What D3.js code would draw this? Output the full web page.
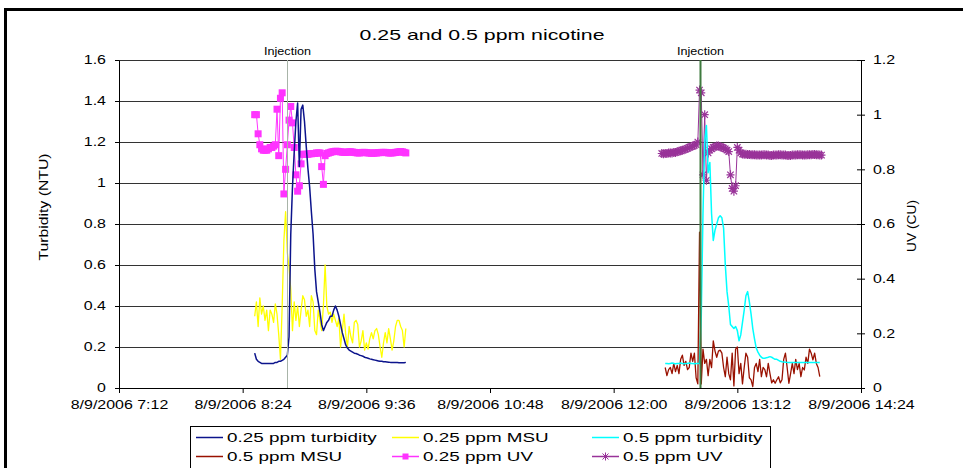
<!DOCTYPE html>
<html><head><meta charset="utf-8">
<script src="https://cdn.jsdelivr.net/npm/d3@7"></script>
<style>
body{margin:0;background:#fff}
svg{display:block}
text{font-family:"Liberation Sans",Arial,sans-serif;fill:#000}
</style>
</head><body>
<svg id="c" width="963" height="468"></svg>
<script>
// ---------------- DATA ----------------
const chartTitle = "0.25 and 0.5 ppm nicotine";
const leftAxisTitle = "Turbidity (NTU)";
const rightAxisTitle = "UV (CU)";
const xTickLabels = ["8/9/2006 7:12","8/9/2006 8:24","8/9/2006 9:36","8/9/2006 10:48","8/9/2006 12:00","8/9/2006 13:12","8/9/2006 14:24"];
const yLeftTicks = [0,0.2,0.4,0.6,0.8,1,1.2,1.4,1.6];
const yRightTicks = [0,0.2,0.4,0.6,0.8,1,1.2];
const injectionLabel = "Injection";
const injectionTimes = ["8/9/2006 8:50","8/9/2006 12:50"];

// one reading per minute from the start time of each run
const sampleMinutes = 1;
const start025 = "8/9/2006 8:31";
const start05 = "8/9/2006 12:30";
const start05UV = "8/9/2006 12:28";

const turb025 = [0.17,0.14,0.13,0.125,0.12,0.12,0.12,0.12,0.12,0.12,
 0.12,0.12,0.125,0.125,0.13,0.13,0.135,0.14,0.15,0.16,
 0.25,0.75,0.98,1.15,1.30,1.39,1.08,1.36,1.38,1.30,
 1.18,1.07,0.98,0.86,0.75,0.58,0.47,0.42,0.37,0.31,
 0.28,0.30,0.32,0.33,0.35,0.35,0.38,0.40,0.38,0.35,
 0.31,0.27,0.24,0.21,0.195,0.185,0.18,0.175,0.17,0.168,
 0.165,0.16,0.158,0.155,0.15,0.148,0.145,0.142,0.14,0.138,
 0.136,0.134,0.132,0.13,0.13,0.128,0.128,0.127,0.126,0.125,
 0.125,0.124,0.124,0.124,0.123,0.123,0.123,0.123,0.125];

const msu025 = [0.35,0.42,0.30,0.44,0.36,0.40,0.33,0.38,0.28,0.38,
 0.36,0.32,0.41,0.36,0.26,0.14,0.40,0.72,0.86,0.66,
 0.59,0.48,0.28,0.42,0.33,0.40,0.30,0.38,0.45,0.43,
 0.35,0.38,0.30,0.45,0.42,0.28,0.26,0.38,0.33,0.28,
 0.40,0.60,0.40,0.36,0.37,0.32,0.36,0.33,0.30,0.34,
 0.20,0.28,0.36,0.26,0.20,0.30,0.25,0.22,0.32,0.33,
 0.31,0.20,0.23,0.28,0.185,0.22,0.19,0.24,0.27,0.24,
 0.28,0.29,0.26,0.20,0.15,0.22,0.27,0.22,0.29,0.24,
 0.185,0.23,0.30,0.33,0.33,0.30,0.28,0.20,0.29];

const uv025 = [1.00,1.00,0.93,0.89,0.875,0.87,0.87,0.87,0.875,0.88,
 0.88,0.885,0.89,1.02,0.85,1.06,1.08,0.71,0.80,0.89,
 0.98,1.03,0.97,0.88,0.78,0.72,0.74,0.82,0.855,0.855,
 0.855,0.855,0.857,0.857,0.858,0.858,0.86,0.86,0.86,0.81,
 0.745,0.85,0.858,0.86,0.862,0.864,0.865,0.866,0.866,0.865,
 0.864,0.863,0.862,0.862,0.863,0.864,0.864,0.863,0.862,0.861,
 0.86,0.86,0.861,0.862,0.862,0.861,0.86,0.86,0.859,0.859,
 0.86,0.86,0.861,0.861,0.862,0.862,0.862,0.861,0.86,0.86,
 0.86,0.861,0.862,0.863,0.864,0.865,0.864,0.862,0.86];

const turb05 = [0.12,0.12,0.118,0.12,0.122,0.12,0.118,0.12,0.12,0.122,
 0.12,0.118,0.12,0.12,0.122,0.12,0.12,0.118,0.12,0.12,
 0.12,0.35,0.85,1.20,1.28,1.05,1.10,0.85,0.72,0.77,
 0.80,0.83,0.84,0.83,0.78,0.60,0.47,0.40,0.31,0.30,
 0.29,0.30,0.28,0.23,0.26,0.32,0.38,0.45,0.47,0.42,
 0.36,0.29,0.24,0.195,0.175,0.16,0.15,0.145,0.145,0.148,
 0.15,0.153,0.15,0.145,0.14,0.14,0.135,0.13,0.128,0.127,
 0.126,0.125,0.125,0.124,0.124,0.124,0.124,0.124,0.124,0.124,
 0.124,0.124,0.124,0.124,0.125,0.125,0.125,0.124,0.124,0.125,
 0.125];

const msu05 = [0.10,0.06,0.09,0.10,0.07,0.12,0.08,0.11,0.07,0.14,
 0.16,0.11,0.13,0.09,0.10,0.17,0.13,0.17,0.05,0.02,
 0.76,0.02,0.19,0.12,0.14,0.06,0.14,0.10,0.23,0.18,
 0.15,0.18,0.185,0.17,0.10,0.055,0.15,0.07,0.04,0.17,
 0.01,0.19,0.20,0.07,0.12,0.02,0.10,0.17,0.15,0.05,
 0.04,0.007,0.10,0.12,0.08,0.14,0.055,0.10,0.09,0.055,
 0.12,0.07,0.025,0.04,0.023,0.04,0.055,0.025,0.04,0.14,
 0.17,0.10,0.023,0.07,0.12,0.07,0.14,0.09,0.12,0.055,
 0.10,0.088,0.15,0.12,0.19,0.17,0.137,0.17,0.12,0.10,
 0.055];

const uv05 = [0.858,0.857,0.858,0.858,0.86,0.86,0.86,0.862,0.862,0.864,
 0.866,0.868,0.87,0.872,0.874,0.877,0.88,0.883,0.885,0.888,
 0.89,0.90,1.09,1.08,0.78,1.00,0.76,0.86,0.87,0.875,
 0.88,0.882,0.885,0.885,0.883,0.88,0.878,0.875,0.87,0.865,
 0.78,0.73,0.72,0.74,0.88,0.87,0.86,0.856,0.855,0.855,
 0.854,0.854,0.853,0.853,0.853,0.852,0.852,0.852,0.852,0.853,
 0.853,0.852,0.852,0.851,0.851,0.852,0.852,0.852,0.853,0.853,
 0.852,0.852,0.852,0.851,0.851,0.851,0.852,0.852,0.852,0.853,
 0.853,0.853,0.852,0.852,0.852,0.853,0.853,0.853,0.854,0.854,
 0.853,0.853,0.852,0.852];

const seriesNames = ["0.25 ppm turbidity","0.25 ppm MSU","0.5 ppm turbidity","0.5 ppm MSU","0.25 ppm UV","0.5 ppm UV"];

// ---------------- DRAWING ----------------
const svg = d3.select("#c");
const parse = d3.timeParse("%m/%d/%Y %H:%M");
const X0 = 119, X1 = 861, Y0 = 388, Y1 = 60;

const x = d3.scaleTime()
  .domain([parse(xTickLabels[0]), parse(xTickLabels[xTickLabels.length-1])])
  .range([X0, X1]);
const yL = d3.scaleLinear().domain([0,1.6]).range([Y0,Y1]);
const yR = d3.scaleLinear().domain([0,1.2]).range([Y0,Y1]);

const series = [
  {name:seriesNames[0], data:turb025, start:start025, axis:yL, color:"#0c148c", width:1.5, marker:null},
  {name:seriesNames[1], data:msu025,  start:start025, axis:yL, color:"#ffff00", width:1.3, marker:null},
  {name:seriesNames[2], data:turb05,  start:start05,  axis:yL, color:"#00ffff", width:1.5, marker:null},
  {name:seriesNames[3], data:msu05,   start:start05,  axis:yL, color:"#991100", width:1.3, marker:null},
  {name:seriesNames[4], data:uv025,   start:start025, axis:yR, color:"#ff33ff", width:1, marker:"square"},
  {name:seriesNames[5], data:uv05,    start:start05UV,axis:yR, color:"#993399", width:1, marker:"star"}
];
const timeAt = (s,i) => new Date(parse(s.start).getTime() + i*sampleMinutes*60000);

// outer frame
svg.append("rect").attr("x",5.5).attr("y",9.5).attr("width",990).attr("height",490)
  .attr("fill","none").attr("stroke","#000").attr("stroke-width",3);

function stext(g, px, py, str, size, sx, anchor){
  return g.append("text")
    .attr("transform",`translate(${px},${py}) scale(${sx},1)`)
    .attr("text-anchor",anchor).attr("font-size",size).text(str);
}

// gridlines
const grid = svg.append("g");
yLeftTicks.filter(v=>v>0).forEach(v=>{
  const yy = Math.round(yL(v))+0.5;
  grid.append("line").attr("x1",X0).attr("x2",X1).attr("y1",yy).attr("y2",yy)
    .attr("stroke","#333").attr("stroke-width",1);
});

// axes
const tickScale = 1.33;
const gx = svg.append("g").attr("transform",`translate(0,${Y0})`)
  .call(d3.axisBottom(x).tickValues(xTickLabels.map(parse))
    .tickFormat((d,i)=>xTickLabels[i]).tickSizeInner(5).tickSizeOuter(0).tickPadding(7.5));
const gl = svg.append("g").attr("transform",`translate(${X0},0)`)
  .call(d3.axisLeft(yL).tickValues(yLeftTicks).tickFormat(d3.format("")).tickSizeInner(4).tickSizeOuter(0).tickPadding(9));
const gr = svg.append("g").attr("transform",`translate(${X1},0)`)
  .call(d3.axisRight(yR).tickValues(yRightTicks).tickFormat(d3.format("")).tickSizeInner(4).tickSizeOuter(0).tickPadding(8));
gr.selectAll(".tick line").attr("x1",-4).attr("x2",4);
[gx,gl,gr].forEach(g=>{
  g.select(".domain").attr("stroke","#000");
  g.selectAll(".tick line").attr("stroke","#000");
  g.selectAll("text").attr("font-size",12).attr("fill","#000")
   .attr("font-family",'"Liberation Sans",Arial,sans-serif');
});
gx.selectAll("text").attr("transform",`scale(${tickScale},1)`);
gl.selectAll("text").attr("x",-13/tickScale).attr("transform",`scale(${tickScale},1)`);
gr.selectAll("text").attr("x",12/tickScale).attr("transform",`scale(${tickScale},1)`);

// series (UV first, turbidity on top)
const starPath = "M-4,0H4M0,-4.5V4.5M-3.2,-3.2L3.2,3.2M-3.2,3.2L3.2,-3.2";
const drawOrder = [4,5,1,3,0,2];
drawOrder.forEach(k=>{
  const s = series[k];
  const line = d3.line().x((d,i)=>x(timeAt(s,i))).y(d=>s.axis(d));
  svg.append("path").attr("d",line(s.data)).attr("fill","none")
    .attr("stroke",s.color).attr("stroke-width",s.width).attr("stroke-linejoin","round");
  if(s.marker==="square"){
    svg.append("g").selectAll("rect").data(s.data).join("rect")
      .attr("x",(d,i)=>x(timeAt(s,i))-3.5).attr("y",d=>s.axis(d)-3.5)
      .attr("width",7).attr("height",7).attr("fill",s.color);
  } else if(s.marker==="star"){
    svg.append("g").selectAll("path").data(s.data).join("path")
      .attr("transform",(d,i)=>`translate(${x(timeAt(s,i))},${s.axis(d)})`)
      .attr("d",starPath)
      .attr("stroke",s.color).attr("stroke-width",1.2).attr("fill","none");
  }
});

// injection lines
const injStyles = [{c:"#a8b4a8",w:1},{c:"#3f7a3f",w:2}];
injectionTimes.forEach((t,i)=>{
  const xx = Math.round(x(parse(t)))+0.5;
  svg.append("line").attr("x1",xx).attr("x2",xx).attr("y1",Y1).attr("y2",Y0)
    .attr("stroke",injStyles[i].c).attr("stroke-width",injStyles[i].w);
  stext(svg, xx, 55, injectionLabel, 10, 1.26, "middle");
});

// titles
stext(svg, 482, 40, chartTitle, 15, 1.42, "middle");
svg.append("text").attr("transform","translate(48,207) rotate(-90)")
  .attr("text-anchor","middle").attr("font-size",12)
  .attr("textLength",107).attr("lengthAdjust","spacingAndGlyphs").text(leftAxisTitle);
svg.append("text").attr("transform","translate(916,226) rotate(-90)")
  .attr("text-anchor","middle").attr("font-size",12)
  .attr("textLength",52).attr("lengthAdjust","spacingAndGlyphs").text(rightAxisTitle);

// legend
const lg = svg.append("g");
lg.append("rect").attr("x",190.5).attr("y",426.5).attr("width",580).attr("height",60)
  .attr("fill","#fff").attr("stroke","#000").attr("stroke-width",1);
const colX = [196,392,592], rowY = [437,456];
series.forEach((s,i)=>{
  const cx = colX[i%3], cy = rowY[Math.floor(i/3)];
  lg.append("line").attr("x1",cx).attr("x2",cx+27).attr("y1",cy+0.5).attr("y2",cy+0.5)
    .attr("stroke",s.color).attr("stroke-width",1.5);
  if(s.marker==="square"){
    lg.append("rect").attr("x",cx+10.5).attr("y",cy-2.5).attr("width",6).attr("height",6).attr("fill",s.color);
  } else if(s.marker==="star"){
    lg.append("path").attr("transform",`translate(${cx+13.5},${cy+0.5})`)
      .attr("d","M-3.5,0H3.5M0,-4V4M-3,-3L3,3M-3,3L3,-3").attr("stroke",s.color).attr("fill","none");
  }
  stext(lg, cx+31, cy+5, s.name, 13, 1.45, "start");
});
</script>
</body></html>
